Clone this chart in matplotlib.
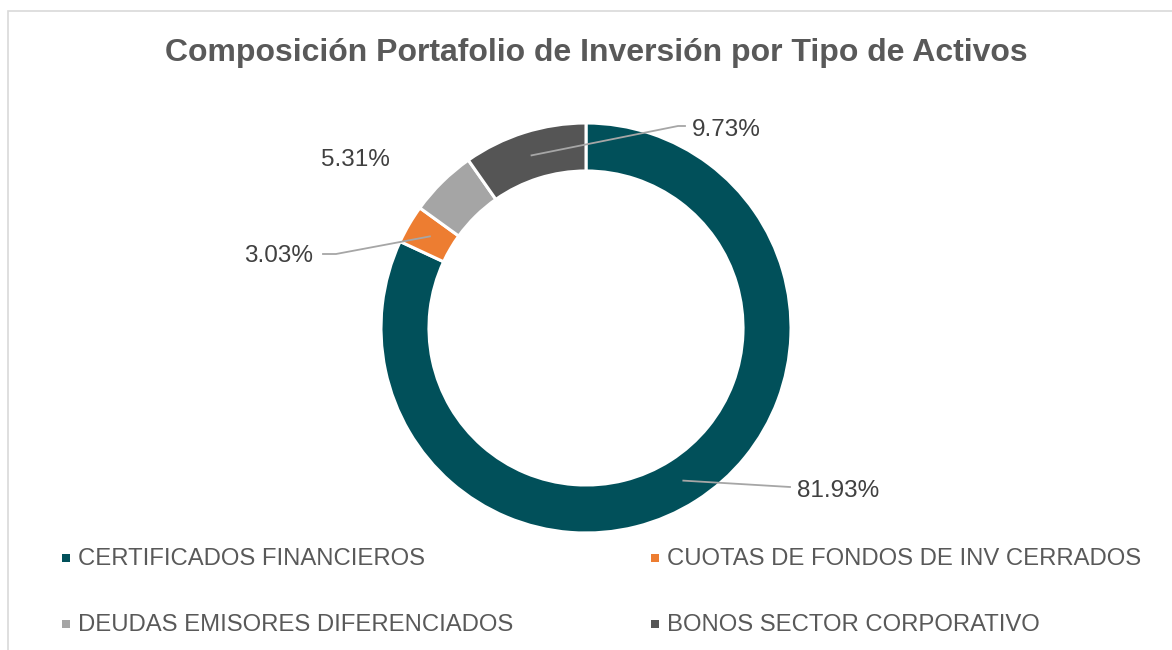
import numpy as np
import matplotlib.pyplot as plt
from matplotlib.patches import Rectangle

categories = ['CERTIFICADOS FINANCIEROS', 'CUOTAS DE FONDOS DE INV CERRADOS',
              'DEUDAS EMISORES DIFERENCIADOS', 'BONOS SECTOR CORPORATIVO']
values = [81.93, 3.03, 5.31, 9.73]
colors = ['#01505A', '#ED7D31', '#A5A5A5', '#555555']

plt.rcParams['font.family'] = ['Liberation Sans', 'DejaVu Sans']

W, H = 1172, 650
fig = plt.figure(figsize=(W / 100, H / 100), dpi=100)

# outer frame (only top and left visible in reference)
fig.add_artist(Rectangle((8 / W, -0.1), 1.2, 1 - 11 / H + 0.1, transform=fig.transFigure,
                         fill=False, edgecolor='#D9D9D9', linewidth=1.2))

R = 205
cx, cy = 586, 328
ax = fig.add_axes([(cx - R) / W, (H - cy - R) / H, 2 * R / W, 2 * R / H])
width = 0.234
wedges, _ = ax.pie(values, colors=colors, startangle=90, counterclock=False, radius=1,
                   wedgeprops=dict(width=width, edgecolor='white', linewidth=2.2))
ax.set_xlim(-1, 1)
ax.set_ylim(-1, 1)
ax.set_aspect('equal')
ax.axis('off')

# label positions in pixels: (text anchor, ha, leader bend points)
mid_r = 1 - width / 2
label_pos = [
    ((797, 491), 'left', [(790, 487)]),
    ((313, 256), 'right', [(336, 254), (323, 254)]),
    ((355, 160), 'center', None),
    ((692, 130), 'left', [(678, 126), (685, 126)]),
]

def to_data(p):
    return ((p[0] - cx) / R, (cy - p[1]) / R)

for w, v, (pos, ha, bends) in zip(wedges, values, label_pos):
    ang = np.deg2rad((w.theta1 + w.theta2) / 2)
    anchor = (mid_r * np.cos(ang), mid_r * np.sin(ang))
    if bends:
        pts = [anchor] + [to_data(b) for b in bends]
        xs, ys = zip(*pts)
        ax.plot(xs, ys, color='#A6A6A6', linewidth=1.3, clip_on=False)
    tx, ty = to_data(pos)
    ax.text(tx, ty, f'{v:.2f}%', ha=ha, va='center', fontsize=17.5, color='#404040',
            clip_on=False)

fig.text(596 / W, 1 - 53 / H, 'Composición Portafolio de Inversión por Tipo de Activos',
         ha='center', va='center', fontsize=23, fontweight='bold', color='#595959')

# legend laid out as in the reference (2 x 2)
leg_pos = [(66, 558), (655, 558), (66, 624), (655, 624)]
for (lx, ly), name, c in zip(leg_pos, categories, colors):
    s = 8
    fig.add_artist(Rectangle(((lx - s / 2) / W, (H - ly - s / 2) / H), s / W, s / H,
                             transform=fig.transFigure, facecolor=c, edgecolor='none'))
    fig.text((lx + 12) / W, 1 - (ly + 1) / H, name, ha='left', va='center', fontsize=17.2,
             color='#595959')

fig.savefig('out.png', dpi=100, facecolor='white')
